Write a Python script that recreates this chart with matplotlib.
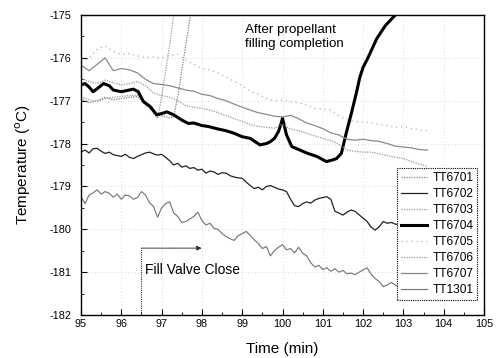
import matplotlib
matplotlib.use("Agg")
import matplotlib.pyplot as plt

plt.rcParams['font.family'] = ['Liberation Sans', 'DejaVu Sans']
plt.rcParams['axes.unicode_minus'] = False

# ---- data ----
time_fine = [
    95.0, 95.1, 95.2, 95.3, 95.4, 95.5, 95.6, 95.7, 95.8, 95.9,
    96.0, 96.1, 96.2, 96.3, 96.4, 96.5, 96.6, 96.7, 96.8, 96.9,
    97.0, 97.1, 97.2, 97.3, 97.4, 97.5, 97.6, 97.7, 97.8, 97.9,
    98.0, 98.1, 98.2, 98.3, 98.4, 98.5, 98.6, 98.7, 98.8, 98.9,
    99.0, 99.1, 99.2, 99.3, 99.4, 99.5, 99.6, 99.7, 99.8, 99.9,
    100.0, 100.1, 100.2, 100.3, 100.4, 100.5, 100.6, 100.7, 100.8, 100.9,
    101.0, 101.1, 101.2, 101.3, 101.4, 101.5, 101.6, 101.7, 101.8, 101.9,
    102.0, 102.1, 102.2, 102.3, 102.4, 102.5, 102.6, 102.7, 102.8, 102.9,
    103.0, 103.1, 103.2, 103.3, 103.4, 103.5, 103.6]

time_coarse = [
    95.0, 95.2, 95.4, 95.6, 95.8,
    96.0, 96.2, 96.4, 96.6, 96.8,
    97.0, 97.2, 97.4, 97.6, 97.8,
    98.0, 98.2, 98.4, 98.6, 98.8,
    99.0, 99.2, 99.4, 99.6, 99.8,
    100.0, 100.2, 100.4, 100.6, 100.8,
    101.0, 101.2, 101.4, 101.6, 101.8,
    102.0, 102.2, 102.4, 102.6, 102.8,
    103.0, 103.2, 103.4, 103.6]

# TT6702 (dark, around -178.2)
tt6702 = [
    -178.20, -178.15, -178.22, -178.12, -178.11, -178.18, -178.23, -178.20, -178.26, -178.28,
    -178.30, -178.25, -178.32, -178.35, -178.30, -178.26, -178.22, -178.20, -178.24, -178.27,
    -178.25, -178.32, -178.40, -178.50, -178.46, -178.55, -178.52, -178.58, -178.56, -178.62,
    -178.60, -178.69, -178.64, -178.66, -178.72, -178.68, -178.69, -178.75, -178.78, -178.80,
    -178.81, -178.90, -178.98, -179.05, -179.02, -179.08, -179.00, -178.98, -179.02, -179.06,
    -179.08, -179.12, -179.30, -179.45, -179.47, -179.40, -179.36, -179.39, -179.32, -179.28,
    -179.26, -179.24, -179.30, -179.58, -179.62, -179.67, -179.60, -179.55, -179.58, -179.66,
    -179.74, -179.82, -179.95, -180.02, -179.94, -179.82, -179.86, -179.84, -179.88, -179.90,
    -179.92, -179.95, -179.98, -180.00, -179.98, -180.02, -180.05]

# TT1301 (noisy, lowest)
tt1301 = [
    -179.24, -179.40, -179.20, -179.15, -179.08, -179.18, -179.12, -179.16, -179.25, -179.18,
    -179.30, -179.20, -179.22, -179.30, -179.26, -179.12, -179.20, -179.38, -179.47, -179.72,
    -179.50, -179.40, -179.36, -179.62, -179.70, -179.84, -179.82, -179.76, -179.70, -179.60,
    -179.80, -179.90, -179.86, -179.98, -180.00, -180.10, -180.17, -180.22, -180.26, -180.15,
    -180.10, -180.05, -180.14, -180.25, -180.33, -180.45, -180.40, -180.62, -180.50, -180.42,
    -180.36, -180.48, -180.45, -180.55, -180.42, -180.56, -180.62, -180.78, -180.88, -180.84,
    -180.94, -180.90, -180.98, -180.92, -181.00, -180.96, -181.04, -181.02, -181.06, -181.00,
    -180.95, -180.90, -181.05, -181.15, -181.22, -181.34, -181.30, -181.24, -181.30, -181.36,
    -181.40, -181.42, -181.38, -181.46, -181.44, -181.50, -181.48]

# TT6705 (faint, top)
tt6705 = [
    -176.10, -176.00, -175.80, -175.72, -175.85,
    -175.92, -175.90, -175.95, -176.00, -175.98,
    -176.00, -175.95, -175.92, -176.05, -176.15,
    -176.25, -176.28, -176.35, -176.45, -176.55,
    -176.65, -176.78, -176.85, -176.95, -177.00,
    -176.98, -177.02, -177.05, -177.10, -177.18,
    -177.20, -177.22, -177.35, -177.45, -177.48,
    -177.50, -177.52, -177.55, -177.58, -177.62,
    -177.60, -177.65, -177.68, -177.70]

# TT6707 (gray solid, second)
tt6707 = [
    -176.17, -176.30, -176.15, -176.00, -176.30,
    -176.25, -176.28, -176.35, -176.50, -176.60,
    -176.62, -176.65, -176.70, -176.75, -176.78,
    -176.85, -176.88, -176.95, -177.00, -177.08,
    -177.15, -177.22, -177.28, -177.32, -177.36,
    -177.38, -177.34, -177.42, -177.52, -177.58,
    -177.65, -177.75, -177.80, -177.90, -177.92,
    -177.90, -177.93, -177.95, -178.00, -178.06,
    -178.08, -178.10, -178.14, -178.15]

# TT6706 (light dotted, third)
tt6706 = [
    -176.48, -176.55, -176.60, -176.52, -176.58,
    -176.63, -176.60, -176.55, -176.65, -176.82,
    -176.88, -176.92, -177.00, -177.12, -177.15,
    -177.18, -177.22, -177.28, -177.35, -177.42,
    -177.48, -177.56, -177.60, -177.62, -177.64,
    -177.55, -177.66, -177.70, -177.76, -177.82,
    -177.88, -177.93, -178.02, -178.15, -178.18,
    -178.20, -178.20, -178.24, -178.28, -178.32,
    -178.35, -178.42, -178.48, -178.54]

# TT6704 (thick black)
time_6704 = [95.0, 95.1, 95.2, 95.3, 95.4, 95.56, 95.7, 95.8, 96.0, 96.2,
             96.3, 96.42, 96.55, 96.72, 96.88, 97.0, 97.13, 97.3, 97.5, 97.66,
             97.8, 98.0, 98.15, 98.4, 98.6, 98.8, 99.0, 99.2, 99.44, 99.6,
             99.69, 99.8, 99.9, 99.97, 100.0, 100.05, 100.1, 100.23, 100.43, 100.6,
             100.85, 101.09, 101.25, 101.34, 101.46, 101.58, 101.71, 101.83, 101.92, 102.0,
             102.12, 102.34, 102.55, 102.8, 102.9]
tt6704 = [-176.63, -176.60, -176.68, -176.79, -176.72, -176.60, -176.65, -176.75, -176.79, -176.75,
          -176.73, -176.79, -177.02, -177.14, -177.33, -177.30, -177.26, -177.33, -177.45, -177.53,
          -177.52, -177.58, -177.60, -177.66, -177.70, -177.76, -177.84, -177.88, -178.03, -178.00,
          -177.96, -177.88, -177.72, -177.52, -177.41, -177.60, -177.80, -178.07, -178.15, -178.22,
          -178.30, -178.42, -178.38, -178.35, -178.23, -177.76, -177.29, -176.83, -176.45, -176.22,
          -176.00, -175.55, -175.25, -175.00, -174.85]

# TT6703 (light dotted, rises near 97)
time_6703 = [95.0, 95.2, 95.4, 95.6, 95.8, 96.0, 96.2, 96.4, 96.6, 96.8, 96.9,
             97.0, 97.1, 97.2, 97.3, 97.4]
tt6703 = [-176.90, -176.98, -177.02, -176.95, -176.92, -176.90, -176.88, -176.87, -177.05, -177.30, -177.42,
          -176.90, -176.30, -175.70, -175.00, -174.50]

# TT6701 (gray dotted, rises near 97.4)
time_6701 = [95.0, 95.2, 95.4, 95.6, 95.8, 96.0, 96.2, 96.4, 96.6, 96.8, 97.0, 97.2, 97.3,
             97.4, 97.5, 97.6, 97.7, 97.8]
tt6701 = [-176.95, -177.05, -177.00, -176.92, -176.98, -176.95, -176.92, -176.90, -177.10, -177.25, -177.35, -177.40, -177.38,
          -176.90, -176.30, -175.70, -175.10, -174.60]

x_ticks = [95, 96, 97, 98, 99, 100, 101, 102, 103, 104, 105]
y_ticks = [-182, -181, -180, -179, -178, -177, -176, -175]

valve_time = 96.5
arrow_end = 98.0
arrow_level = -180.44

# ---- figure ----
fig = plt.figure(figsize=(5.01, 3.58), dpi=100)
ax = fig.add_axes([81/501, 1 - 315/358, 403/501, 300/358])

ax.plot(time_6701, tt6701, color='#808080', lw=0.9, ls=(0, (1, 1)), label='TT6701')
ax.plot(time_fine, tt6702, color='#222222', lw=0.9, label='TT6702')
ax.plot(time_6703, tt6703, color='#9a9a9a', lw=0.9, ls=(0, (1, 1)), label='TT6703')
ax.plot(time_6704, tt6704, color='black', lw=2.2, label='TT6704')
ax.plot(time_coarse, tt6705, color='#b0b0b0', lw=0.9, ls=(0, (1, 3)), label='TT6705')
ax.plot(time_coarse, tt6706, color='#999999', lw=0.9, ls=(0, (1, 1)), label='TT6706')
ax.plot(time_coarse, tt6707, color='#8a8a8a', lw=0.9, label='TT6707')
ax.plot(time_fine, tt1301, color='#707070', lw=0.8, label='TT1301')

ax.set_xlim(95, 105)
ax.set_ylim(-182, -175)
ax.set_xticks(x_ticks)
ax.set_yticks(y_ticks)
ax.set_xticks([t + 0.5 for t in x_ticks[:-1]], minor=True)
ax.set_yticks([v + 0.5 for v in y_ticks[:-1]], minor=True)
ax.tick_params(which='both', direction='in', top=False, right=False,
               labelsize=7.8)
ax.tick_params(axis='x', pad=3)
ax.tick_params(axis='y', pad=7)
ax.tick_params(which='major', length=4, width=0.8)
ax.tick_params(which='minor', length=2, width=0.6)
ax.grid(True, which='major', color='#cccccc', ls=(0, (1, 3)), lw=0.6)
for s in ax.spines.values():
    s.set_linewidth(1.0)
    s.set_color('black')

ax.set_xlabel('Time (min)', fontsize=11, labelpad=9)
ax.set_ylabel('Temperature ($^{\\mathrm{o}}$C)', fontsize=11, labelpad=12)

ax.text(99.07, -175.22, 'After propellant\nfilling completion', fontsize=9.6,
        va='top', ha='left', linespacing=1.2)

ax.plot([valve_time, valve_time], [-182, arrow_level], color='#333333',
        lw=0.8, ls=(0, (1, 1)))
ax.annotate('', xy=(arrow_end, arrow_level), xytext=(valve_time, arrow_level),
            arrowprops=dict(arrowstyle='-|>', color='#333333', lw=0.8,
                            ls=(0, (1, 1)), mutation_scale=7,
                            shrinkA=0, shrinkB=0))
ax.text(valve_time + 0.1, -180.95, 'Fill Valve Close', fontsize=10,
        va='center', ha='left')

leg = ax.legend(loc='upper left', bbox_to_anchor=(0.784, 0.49),
                borderaxespad=0, fontsize=8.6, frameon=True, fancybox=False,
                edgecolor='black', framealpha=1, handlelength=2.2,
                handletextpad=0.4, labelspacing=0.33, borderpad=0.35)
leg.get_frame().set_linewidth(0.8)
leg.get_frame().set_linestyle((0, (1, 1)))

fig.savefig('out.png', dpi=100)
